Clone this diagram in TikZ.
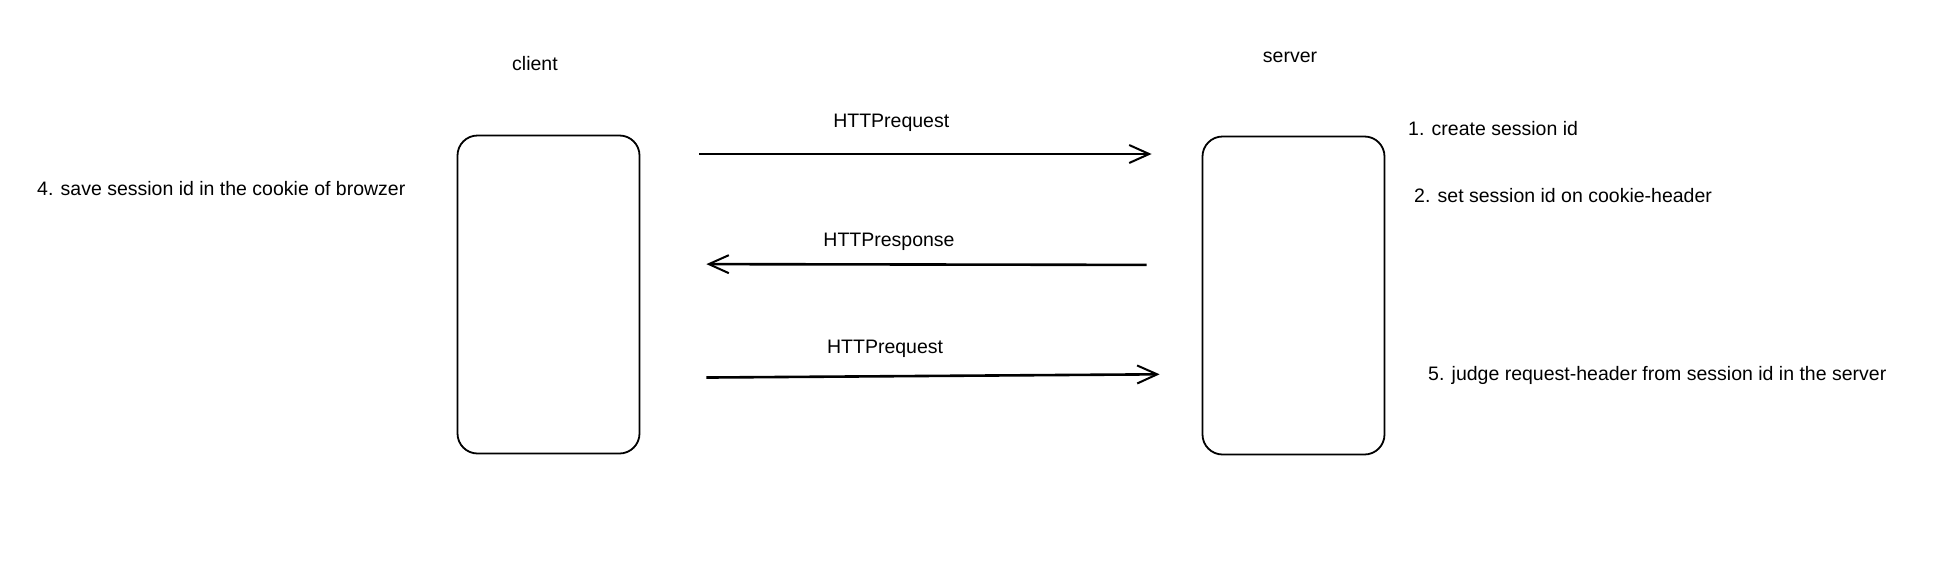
\documentclass[tikz,border=0pt]{standalone}
\usepackage{fontspec}
\setmainfont{Liberation Sans}
\usetikzlibrary{positioning,arrows.meta}

\begin{document}
\begin{tikzpicture}[x=1pt, y=-1pt,
		box/.style = {draw, line width=1.8pt, rounded corners=20pt, minimum width=182pt, minimum height=318pt},
		msg/.style = {line width=2.6pt, -{Straight Barb[length=20pt, width=18pt, line width=2pt]}},
		note/.style = {font=\fontsize{19.5}{22}\selectfont, inner sep=0pt}]
	\useasboundingbox (0,0) rectangle (1946,560);

	\node[box] (client) at (548.5,294.5) {};
	\node[box] (server) at (1293.5,295.5) {};
	\node[note] (clientlbl) at (535,64) {client};
	\node[note] (serverlbl) at (1290,57) {server};

	\node[note, anchor=west] (save) at (37,189) {4. save session id in the cookie of browzer};
	\node[note, anchor=west] (create) at (1408,129) {1. create session id};
	\node[note, anchor=west] (setid) at (1414,196) {2. set session id on cookie-header};
	\node[note, anchor=west] (judge) at (1428,375) {5. judge request-header from session id in the server};

	\draw[msg, shorten <=59pt, shorten >=50pt] ([yshift=140.5pt]client.east) -- ([yshift=141.5pt]server.west)
		node[note, pos=0.447, yshift=31pt] (req1) {HTTPrequest};
	\draw[msg, shorten <=55pt, shorten >=66pt] ([yshift=30.5pt]server.west) -- ([yshift=30.5pt]client.east)
		node[note, pos=0.557, yshift=23pt] (resp) {HTTPresponse};
	\draw[msg, shorten <=66pt, shorten >=42pt] ([yshift=-83.5pt]client.east) -- ([yshift=-78.5pt]server.west)
		node[note, pos=0.436, yshift=27pt] (req2) {HTTPrequest};
\end{tikzpicture}
\end{document}
